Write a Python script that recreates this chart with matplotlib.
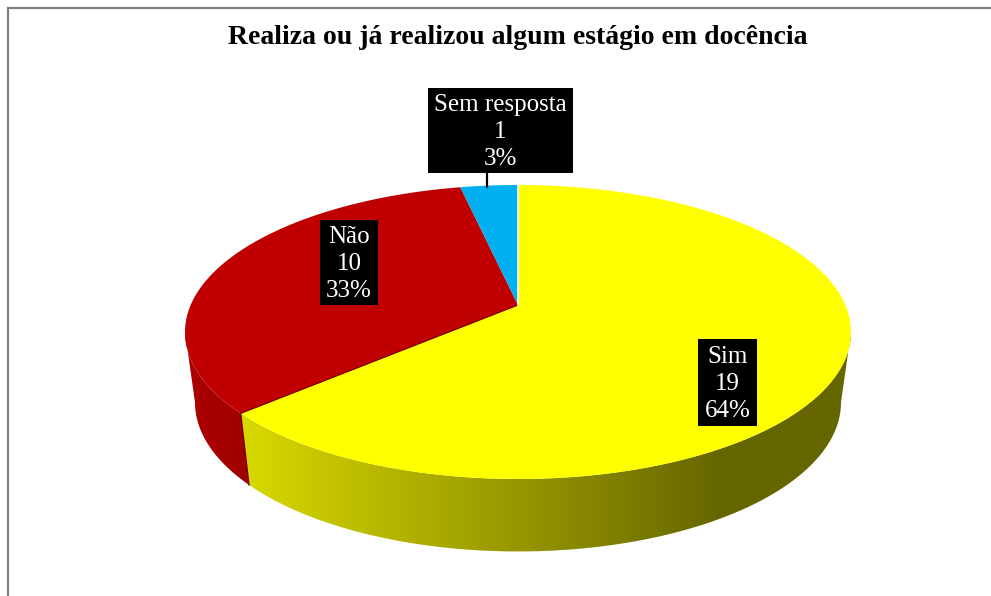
import numpy as np
from matplotlib import pyplot as plt
from matplotlib.patches import Polygon, Rectangle

_W, _H = 991, 596
_SERIF = ['Liberation Serif', 'DejaVu Serif']
_K = 54 / 294  # perspective of the tilted pie

title = 'Realiza ou já realizou algum estágio em docência'
names = ['Sim', 'Não', 'Sem resposta']
values = [19, 10, 1]
percents = ['64%', '33%', '3%']
colors = ['#FFFF00', '#C00000', '#00B0F0']

# wall shades: x pixel -> level of the slice colour
yellow_x = [245, 720]
yellow_level = [216, 102]
red_x = [185, 250]
red_level = [172, 160]

# label boxes in picture pixels: x0, y0, x1, y1
boxes = [(698, 339, 757, 426), (320, 220, 378, 305), (428, 88, 573, 173)]


def project(theta, cy=332, rx=333, ry=147):
  # circle -> tilted ellipse, the pie centre moves up because of the perspective
  X, Y = np.sin(theta), np.cos(theta)
  w = 1 + _K * Y
  return 518 + rx * np.sqrt(1 - _K * _K) * X / w, cy - (ry * Y + 27) / w


def bottom(theta):
  return project(theta, cy=402, rx=323, ry=149)


def arc(a0, a1, func=project, n=200):
  x, y = func(np.linspace(a0, a1, n))
  return np.column_stack([x, y])


fig = plt.figure(figsize=(_W / 100, _H / 100), dpi=100)
ax = fig.add_axes([0, 0, 1, 1])
ax.axis('off')

# frame of the original picture
ax.plot([8, 8, _W], [_H, 8, 8], color='#808080', lw=1.6, solid_joinstyle='miter')

edges = np.cumsum([0] + values) / sum(values) * 2 * np.pi
front_r = np.pi / 2 + np.arcsin(_K)
front_l = 2 * np.pi - front_r

# walls, only the part that faces the viewer
walls = [(yellow_x, yellow_level, (1, 1, 0)), (red_x, red_level, (1, 0, 0))]
for i, (x_stops, lev, col) in enumerate(walls):
  a0 = max(edges[i], front_r)
  a1 = min(edges[i + 1], front_l)
  outline = np.vstack([arc(a0, a1), arc(a0, a1, bottom)[::-1]])
  poly = Polygon(outline, closed=True, fc='none', ec='none')
  ax.add_patch(poly)
  xs = np.linspace(170, 860, 691)
  shade = np.interp(xs, x_stops, lev) / 255
  img = np.zeros((1, xs.size, 3))
  for c in range(3):
    img[0, :, c] = shade * col[c]
  im = ax.imshow(img, extent=(170, 860, 560, 300), aspect='auto', interpolation='bilinear', zorder=1)
  im.set_clip_path(poly)

ax.set_xlim(0, _W)
ax.set_ylim(_H, 0)

# seam between the red and the yellow wall
sx, sy = project(edges[1])
bx, by = bottom(edges[1])
ax.plot([sx, bx], [sy, by], color='#7a0000', lw=1.0, zorder=2)

# top face
cy0 = 305
for i, col in enumerate(colors):
  pts = np.vstack([[518, cy0], arc(edges[i], edges[i + 1])])
  ax.add_patch(Polygon(pts, closed=True, fc=col, ec='none', zorder=3))

# dark edge on the Sim/Não cut, white one on the Sem resposta/Sim cut
ax.plot([518, sx], [cy0, sy], color='#7a0000', lw=0.9, zorder=4)
tx, ty = project(edges[0])
ax.plot([518, tx], [cy0, ty], color='#ffffff', lw=1.2, zorder=4)

# leader line
ax.plot([487, 487], [173, 187], color='black', lw=1.6, zorder=4)

for name, val, pct, (x0, y0, x1, y1) in zip(names, values, percents, boxes):
  ax.add_patch(Rectangle((x0, y0), x1 - x0, y1 - y0, fc='black', ec='none', zorder=5))
  ax.text((x0 + x1) / 2, (y0 + y1) / 2 + 1.5, f'{name}\n{val}\n{pct}', color='white', ha='center', va='center',
          family=_SERIF, fontsize=18, linespacing=1.27, zorder=6)

ax.text(518, 37, title, color='black', ha='center', va='center', family=_SERIF, fontsize=20, fontweight='bold')

fig.savefig('out.png', dpi=100, facecolor='white')
